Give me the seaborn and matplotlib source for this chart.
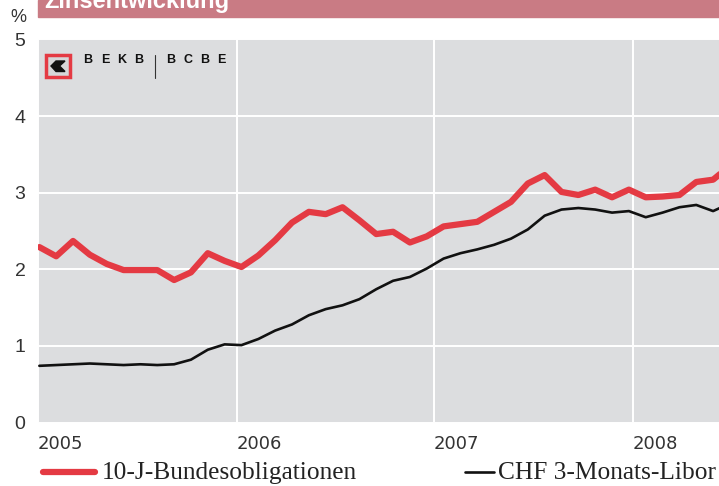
import numpy as np
import pandas as pd
import matplotlib
matplotlib.use("Agg")
import matplotlib.pyplot as plt
from matplotlib.lines import Line2D
from matplotlib.patches import Rectangle, Polygon
import seaborn as sns

# monthly values from Jan 2005, in %
bond_10y = [2.29, 2.17, 2.37, 2.19, 2.07, 1.99, 1.99, 1.99, 1.86, 1.96, 2.21, 2.11,
            2.03, 2.18, 2.38, 2.61, 2.75, 2.72, 2.81, 2.64, 2.46, 2.49, 2.35, 2.43,
            2.56, 2.59, 2.62, 2.75, 2.88, 3.12, 3.23, 3.01, 2.97, 3.04, 2.94, 3.04,
            2.94, 2.95, 2.97, 3.14, 3.17, 3.35]
libor_3m = [0.74, 0.75, 0.76, 0.77, 0.76, 0.75, 0.76, 0.75, 0.76, 0.82, 0.95, 1.02,
            1.01, 1.09, 1.20, 1.28, 1.40, 1.48, 1.53, 1.61, 1.74, 1.85, 1.90, 2.01,
            2.14, 2.21, 2.26, 2.32, 2.40, 2.52, 2.70, 2.78, 2.80, 2.78, 2.74, 2.76,
            2.68, 2.74, 2.81, 2.84, 2.76, 2.86]
months = list(range(len(bond_10y)))
year_labels = ["2005", "2006", "2007", "2008"]
year_pos = [-0.08, 11.71, 23.43, 35.25]
y_ticks = [0, 1, 2, 3, 4, 5]

RED = "#E43A43"
BLACK = "#111111"
BG = "#DCDDDF"
PINK = "#C97B84"

sns.set_theme(style="white")
plt.rcParams["font.family"] = ["Liberation Sans Narrow", "DejaVu Sans"]

df = pd.DataFrame({"month": months, "bond": bond_10y, "libor": libor_3m})

W, H = 719, 486
fig = plt.figure(figsize=(W / 100, H / 100), dpi=100)
fig.patch.set_facecolor("white")


def fx(px):
    return px / W


def fy(py):
    return 1 - py / H


ax = fig.add_axes([fx(38), fy(422.5), fx(719) - fx(38), fy(39.5) - fy(422.5)])
ax.set_facecolor(BG)

sns.lineplot(data=df, x="month", y="libor", ax=ax, color=BLACK, lw=1.9)
sns.lineplot(data=df, x="month", y="bond", ax=ax, color=RED, lw=4.5)

ax.set_xlim(-0.08, 40.35)
ax.set_ylim(0, 5)
ax.set_xticks(year_pos)
ax.set_xticklabels(year_labels, ha="left", fontsize=13)
ax.set_yticks(y_ticks)
ax.set_yticklabels([str(t) for t in y_ticks], fontsize=14,
                   family=["Liberation Sans", "DejaVu Sans"], color="#333333")
ax.tick_params(axis="x", length=0, pad=9, colors="#333333")
ax.tick_params(axis="y", length=0, pad=9)
ax.grid(True, color="white", lw=1.4)
ax.set_axisbelow(True)
for s in ax.spines.values():
    s.set_visible(False)
ax.set_xlabel("")
ax.set_ylabel("")

# title band (cut off at the top, as in the source)
fig.patches.append(Rectangle((fx(38), fy(17)), fx(719) - fx(38), fy(0) - fy(17),
                             transform=fig.transFigure, color=PINK, zorder=0))
fig.text(fx(44), fy(8), "Zinsentwicklung", color="white", fontsize=17,
         fontweight="bold", family=["Liberation Sans", "DejaVu Sans"],
         va="baseline", ha="left")
fig.text(fx(18), fy(18), "%", fontsize=13, ha="center", va="center",
         family=["Liberation Sans", "DejaVu Sans"], color="#333333")

# logo
fig.patches.append(Rectangle((fx(46), fy(77)), fx(70) - fx(46), fy(55) - fy(77),
                             transform=fig.transFigure, facecolor="#D6D6D8",
                             edgecolor=RED, lw=2.5))
fig.patches.append(Polygon([(fx(51), fy(66)), (fx(56), fy(61)), (fx(65), fy(61)),
                            (fx(59.5), fy(66)), (fx(65), fy(71.5)), (fx(56), fy(71.5))],
                           closed=True, transform=fig.transFigure, color=BLACK))
for i, ch in enumerate("BEKB"):
    fig.text(fx(88 + i * 17), fy(60), ch, fontsize=9, fontweight="bold",
             family=["Liberation Sans", "DejaVu Sans"], va="center", ha="center", color=BLACK)
for i, ch in enumerate("BCBE"):
    fig.text(fx(170.5 + i * 17), fy(60), ch, fontsize=9, fontweight="bold",
             family=["Liberation Sans", "DejaVu Sans"], va="center", ha="center", color=BLACK)
fig.lines.append(Line2D([fx(155), fx(155)], [fy(55), fy(78)], color="#333333",
                        lw=0.8, transform=fig.transFigure))

# legend
fig.lines.append(Line2D([fx(43), fx(95)], [fy(472), fy(472)], color=RED, lw=4.5,
                        solid_capstyle="round", transform=fig.transFigure))
fig.text(fx(102), fy(473), "10-J-Bundesobligationen", fontsize=18.3,
         family=["Liberation Serif", "DejaVu Serif"], va="center", ha="left", color="#222222")
fig.lines.append(Line2D([fx(465), fx(494)], [fy(472), fy(472)], color=BLACK, lw=1.9,
                        transform=fig.transFigure))
fig.text(fx(498), fy(473), "CHF 3-Monats-Libor", fontsize=18.3,
         family=["Liberation Serif", "DejaVu Serif"], va="center", ha="left", color="#222222")

fig.savefig("out.png", dpi=100)
